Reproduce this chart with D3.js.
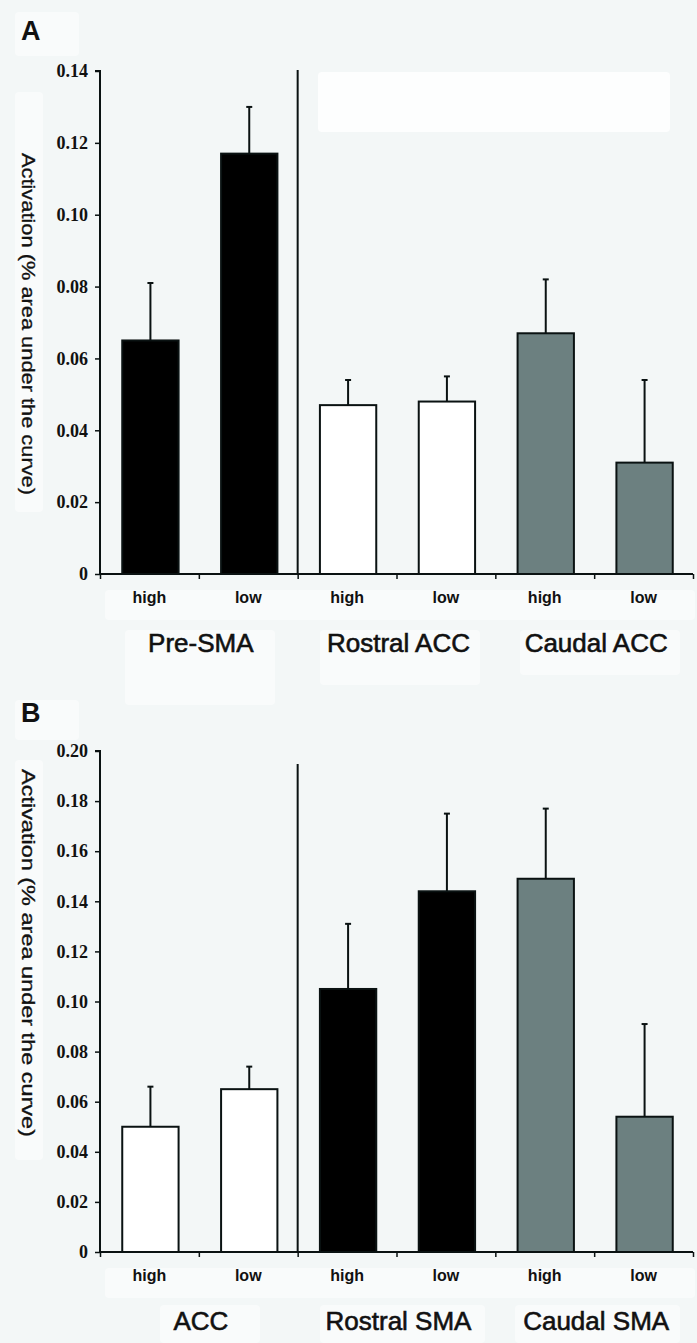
<!DOCTYPE html>
<html>
<head>
<meta charset="utf-8">
<script src="https://cdn.jsdelivr.net/npm/d3@7"></script>
<style>
  body { margin: 0; background: #f4f8f8; }
  svg { display: block; }
</style>
</head>
<body>
<script>
// values
const conditions = ["high", "low"];

const regionsA = ["Pre-SMA", "Rostral ACC", "Caudal ACC"];
const meanA = [0.065, 0.117, 0.047, 0.048, 0.067, 0.031];
const semA = [0.016, 0.013, 0.007, 0.007, 0.015, 0.023];
const fillA = ["#000", "#000", "#fff", "#fff", "#6c8080", "#6c8080"];
const ticksA = [0, 0.02, 0.04, 0.06, 0.08, 0.10, 0.12, 0.14];

const regionsB = ["ACC", "Rostral SMA", "Caudal SMA"];
const meanB = [0.050, 0.065, 0.105, 0.144, 0.149, 0.054];
const semB = [0.016, 0.009, 0.026, 0.031, 0.028, 0.037];
const fillB = ["#fff", "#fff", "#000", "#000", "#6c8080", "#6c8080"];
const ticksB = [0, 0.02, 0.04, 0.06, 0.08, 0.10, 0.12, 0.14, 0.16, 0.18, 0.20];

const yTitle = "Activation (% area under the curve)";

function main() {
    let svg = d3.select("body").append("svg")
        .attr("width", 697)
        .attr("height", 1343);

    svg.append("rect").attr("width", 697).attr("height", 1343).attr("fill", "#f3f7f7");

    // whiter patches of the scanned figure
    let patches = [[15, 12, 64, 44], [15, 92, 28, 420], [15, 700, 64, 40],
                   [15, 760, 28, 400], [105, 590, 590, 30], [105, 1268, 590, 30],
                   [125, 630, 150, 75], [320, 630, 160, 55], [520, 630, 160, 45],
                   [160, 1305, 100, 38], [320, 1305, 165, 38], [515, 1305, 165, 38]];
    svg.selectAll("rect.patch").data(patches).enter().append("rect")
        .attr("class", "patch")
        .attr("x", d => d[0]).attr("y", d => d[1])
        .attr("width", d => d[2]).attr("height", d => d[3])
        .attr("rx", 4)
        .attr("fill", "#f9fbfb");

    // blanked-out box in panel A
    svg.append("rect")
        .attr("x", 318).attr("y", 72).attr("width", 352).attr("height", 60)
        .attr("rx", 4)
        .attr("fill", "#fdfefe");

    drawPanel(svg, {
        letter: "A", letterY: 40,
        regions: regionsA, mean: meanA, sem: semA, fill: fillA, ticks: ticksA,
        yMax: 0.14, yBottom: 574, yTop: 71, dividerTop: 70,
        titleCenter: 324, titleLength: 342
    });

    drawPanel(svg, {
        letter: "B", letterY: 722,
        regions: regionsB, mean: meanB, sem: semB, fill: fillB, ticks: ticksB,
        yMax: 0.20, yBottom: 1252, yTop: 751, dividerTop: 764,
        titleCenter: 953, titleLength: 368
    });
}

function drawPanel(svg, p) {
    let g = svg.append("g");
    let left = 100, right = 693;

    let y = d3.scaleLinear().domain([0, p.yMax]).range([p.yBottom, p.yTop]);

    // one band per bar, high/low within each region
    let keys = [];
    p.regions.forEach(r => conditions.forEach(c => keys.push(r + "|" + c)));
    let x = d3.scaleBand().domain(keys).range([left, right]).padding(0);
    let bw = x.bandwidth() * 0.57;
    let cx = k => x(k) + x.bandwidth() / 2 + 1;

    let bars = keys.map((k, i) => ({ key: k, cond: k.split("|")[1], mean: p.mean[i], sem: p.sem[i], fill: p.fill[i] }));

    // panel letter
    g.append("text")
        .attr("x", 21).attr("y", p.letterY)
        .attr("font-family", "Liberation Sans, Arial, sans-serif")
        .attr("font-weight", "bold")
        .attr("font-size", 27)
        .attr("fill", "#111")
        .text(p.letter);

    // y axis title, stretched along its length like the scan
    g.append("text")
        .attr("transform", `translate(22, ${p.titleCenter}) rotate(90)`)
        .attr("text-anchor", "middle")
        .attr("font-family", "Liberation Sans, Arial, sans-serif")
        .attr("font-size", 17.5)
        .attr("fill", "#111")
        .attr("stroke", "#111")
        .attr("stroke-width", 0.3)
        .attr("textLength", p.titleLength)
        .attr("lengthAdjust", "spacingAndGlyphs")
        .text(yTitle);

    // bars
    g.selectAll("rect.bar").data(bars).enter().append("rect")
        .attr("class", "bar")
        .attr("x", d => cx(d.key) - bw / 2)
        .attr("y", d => y(d.mean))
        .attr("width", bw)
        .attr("height", d => y(0) - y(d.mean))
        .attr("fill", d => d.fill)
        .attr("stroke", "#0a1212")
        .attr("stroke-width", 2);

    // upper error bars
    g.selectAll("line.err").data(bars).enter().append("line")
        .attr("class", "err")
        .attr("x1", d => cx(d.key)).attr("x2", d => cx(d.key))
        .attr("y1", d => y(d.mean)).attr("y2", d => y(d.mean + d.sem))
        .attr("stroke", "#0a1212").attr("stroke-width", 2);
    g.selectAll("line.cap").data(bars).enter().append("line")
        .attr("class", "cap")
        .attr("x1", d => cx(d.key) - 3).attr("x2", d => cx(d.key) + 3)
        .attr("y1", d => y(d.mean + d.sem)).attr("y2", d => y(d.mean + d.sem))
        .attr("stroke", "#0a1212").attr("stroke-width", 2);

    // divider between first region and the rest
    let divX = x(keys[2]);
    g.append("line")
        .attr("x1", divX).attr("x2", divX)
        .attr("y1", p.dividerTop).attr("y2", y(0))
        .attr("stroke", "#0a1212").attr("stroke-width", 2);

    // y axis
    let yAxis = g.append("g")
        .attr("transform", `translate(${left},0)`)
        .call(d3.axisLeft(y).tickValues(p.ticks).tickSize(5).tickPadding(7)
            .tickFormat(d => d === 0 ? "0" : d.toFixed(2)));
    yAxis.select(".domain").attr("stroke", "#0a1212").attr("stroke-width", 2)
        .attr("d", `M-5,${p.yTop}H0V${p.yBottom}`);
    yAxis.selectAll(".tick line").attr("stroke", "#0a1212").attr("stroke-width", 1.5);
    yAxis.selectAll(".tick text")
        .attr("font-family", "Liberation Serif, Times New Roman, serif")
        .attr("font-weight", "bold")
        .attr("font-size", 18)
        .attr("fill", "#111");

    // x axis: boundary ticks
    let xb = d3.scaleLinear().domain([0, keys.length]).range([left, right]);
    let xAxis = g.append("g")
        .attr("transform", `translate(0,${p.yBottom})`)
        .call(d3.axisBottom(xb).ticks(keys.length).tickSize(5).tickFormat(""));
    xAxis.select(".domain").attr("stroke", "#0a1212").attr("stroke-width", 2)
        .attr("d", `M${left},0H${right}`);
    xAxis.selectAll(".tick line").attr("stroke", "#0a1212").attr("stroke-width", 1.5);

    // condition labels
    g.selectAll("text.cond").data(bars).enter().append("text")
        .attr("class", "cond")
        .attr("x", d => cx(d.key) - 1)
        .attr("y", p.yBottom + 29)
        .attr("text-anchor", "middle")
        .attr("font-family", "Liberation Sans, Arial, sans-serif")
        .attr("font-weight", "bold")
        .attr("font-size", 16)
        .attr("fill", "#111")
        .text(d => d.cond);

    // region labels
    g.selectAll("text.region").data(p.regions).enter().append("text")
        .attr("class", "region")
        .attr("x", (d, i) => (x(keys[i * 2]) + x(keys[i * 2 + 1]) + x.bandwidth()) / 2 + 2)
        .attr("y", p.yBottom + 78)
        .attr("text-anchor", "middle")
        .attr("font-family", "Liberation Sans, Arial, sans-serif")
        .attr("font-size", 26)
        .attr("fill", "#111")
        .attr("stroke", "#111")
        .attr("stroke-width", 0.6)
        .text(d => d);
}

main();
</script>
</body>
</html>
